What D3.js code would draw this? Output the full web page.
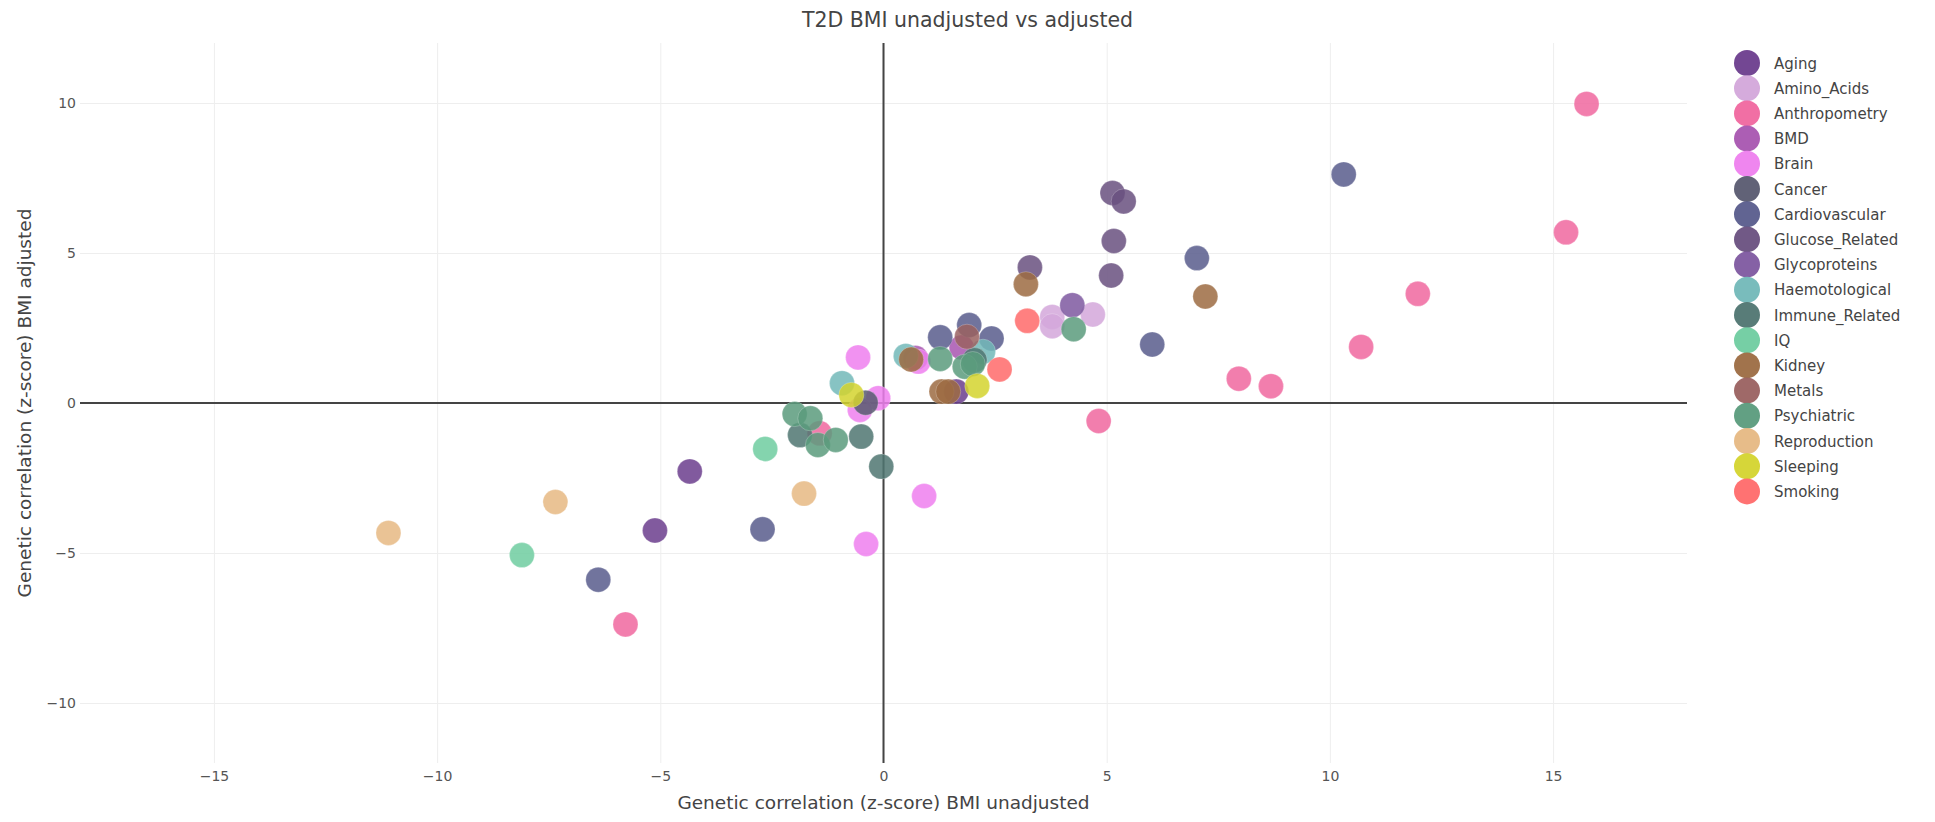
<!DOCTYPE html>
<html>
<head>
<meta charset="utf-8">
<script src="https://cdn.jsdelivr.net/npm/d3@7"></script>
<style>
body { margin: 0; background: #fff; }
text { font-family: Verdana, "DejaVu Sans", sans-serif; }
</style>
</head>
<body>
<div id="chart"></div>
<script>
// data: [unadjusted, adjusted] z-scores
var categories = ["Aging", "Amino_Acids", "Anthropometry", "BMD", "Brain", "Cancer", "Cardiovascular",
    "Glucose_Related", "Glycoproteins", "Haemotological", "Immune_Related", "IQ", "Kidney", "Metals",
    "Psychiatric", "Reproduction", "Sleeping", "Smoking"]
var colors = ["#6b3d8d", "#d3a7da", "#f0679f", "#a855b0", "#ee7fee", "#585a70", "#585c8c",
    "#69507f", "#7e58a0", "#72b8b8", "#4f7571", "#6fcca0", "#9c6b42", "#9a6160",
    "#5a9b7c", "#e6b883", "#d4d42e", "#ff6a6a"]

var aging = [[-4.34, -2.28], [-5.12, -4.25], [1.63, 0.38]]
var aminoAcids = [[3.78, 2.87], [3.78, 2.56], [4.69, 2.95]]
var anthropometry = [[15.75, 9.97], [15.29, 5.69], [11.97, 3.64], [10.7, 1.87], [7.96, 0.81],
    [8.68, 0.56], [4.82, -0.6], [-5.78, -7.38], [-1.43, -1.01]]
var bmd = [[0.72, 1.5], [1.75, 1.85]]
var brain = [[-0.57, 1.52], [-0.12, 0.16], [-0.53, -0.23], [0.91, -3.1], [-0.39, -4.7], [0.78, 1.38]]
var cancer = [[-0.4, 0.01]]
var cardiovascular = [[10.31, 7.62], [7.02, 4.83], [6.02, 1.95], [-6.39, -5.89], [-2.71, -4.21],
    [1.92, 2.6], [1.27, 2.19], [2.42, 2.15]]
var glucoseRelated = [[5.13, 7.0], [5.38, 6.72], [5.16, 5.4], [5.1, 4.25], [3.28, 4.52]]
var glycoproteins = [[4.23, 3.26]]
var haemotological = [[-0.93, 0.66], [0.5, 1.57], [2.23, 1.71]]
var immuneRelated = [[-0.05, -2.12], [-0.5, -1.12], [-1.87, -1.07], [2.04, 1.43]]
var iq = [[-8.1, -5.07], [-2.65, -1.53]]
var kidney = [[7.21, 3.55], [3.19, 3.96], [0.62, 1.45], [1.3, 0.38], [1.45, 0.38]]
var metals = [[1.87, 2.21]]
var psychiatric = [[4.26, 2.46], [1.27, 1.47], [1.82, 1.21], [2.0, 1.3], [-1.99, -0.37],
    [-1.64, -0.51], [-1.47, -1.4], [-1.07, -1.23]]
var reproduction = [[-11.09, -4.33], [-7.35, -3.3], [-1.78, -3.02]]
var sleeping = [[-0.72, 0.27], [2.1, 0.57]]
var smoking = [[3.22, 2.74], [2.6, 1.12]]

var series = [aging, aminoAcids, anthropometry, bmd, brain, cancer, cardiovascular, glucoseRelated,
    glycoproteins, haemotological, immuneRelated, iq, kidney, metals, psychiatric, reproduction,
    sleeping, smoking]

var xTicks = [-15, -10, -5, 0, 5, 10, 15]
var yTicks = [-10, -5, 0, 5, 10]

var W = 1935, H = 822
var margin = {top: 43, right: 248, bottom: 59, left: 80}
var width = W - margin.left - margin.right
var height = H - margin.top - margin.bottom
var r = 12.5

var svg = d3.select("#chart")
    .append("svg")
    .attr("width", W)
    .attr("height", H)

var x = d3.scaleLinear().domain([-18, 18]).range([0, width])
var y = d3.scaleLinear().domain([-12, 12]).range([height, 0])

var g = svg.append("g")
    .attr("transform", "translate(" + margin.left + "," + margin.top + ")")

// grid
g.append("g")
    .call(d3.axisBottom(x).tickValues(xTicks).tickSize(height).tickFormat(""))
    .call(function(a) {
        a.select(".domain").remove()
        a.selectAll("line").style("stroke", "#eeeeee")
    })
g.append("g")
    .call(d3.axisLeft(y).tickValues(yTicks).tickSize(-width).tickFormat(""))
    .call(function(a) {
        a.select(".domain").remove()
        a.selectAll("line").style("stroke", "#eeeeee")
    })

// zero lines
g.append("line")
    .attr("x1", 0).attr("x2", width)
    .attr("y1", y(0)).attr("y2", y(0))
    .style("stroke", "#444").style("stroke-width", 2)
g.append("line")
    .attr("x1", x(0)).attr("x2", x(0))
    .attr("y1", 0).attr("y2", height)
    .style("stroke", "#444").style("stroke-width", 2)

// tick labels
g.append("g")
    .attr("transform", "translate(0," + height + ")")
    .call(d3.axisBottom(x).tickValues(xTicks).tickSize(0).tickPadding(8))
    .call(function(a) {
        a.select(".domain").remove()
        a.selectAll("text").style("font-size", "14px").style("fill", "#555")
            .style("font-family", "Verdana, 'DejaVu Sans', sans-serif")
    })
g.append("g")
    .call(d3.axisLeft(y).tickValues(yTicks).tickSize(0).tickPadding(4))
    .call(function(a) {
        a.select(".domain").remove()
        a.selectAll("text").style("font-size", "14px").style("fill", "#555")
            .style("font-family", "Verdana, 'DejaVu Sans', sans-serif")
    })

// points
series.forEach(function(pts, i) {
    g.append("g").attr("class", "trace")
        .selectAll("circle")
        .data(pts)
        .enter().append("circle")
        .attr("cx", function(d) { return x(d[0]) })
        .attr("cy", function(d) { return y(d[1]) })
        .attr("r", r)
        .style("fill", colors[i])
        .style("fill-opacity", 0.85)
        .style("stroke", "#fff").style("stroke-opacity", 0.4).style("stroke-width", 0.6)
})

// titles
svg.append("text")
    .attr("x", W / 2).attr("y", 27)
    .attr("text-anchor", "middle")
    .style("font-size", "20.5px").style("fill", "#444")
    .text("T2D BMI unadjusted vs adjusted")
svg.append("text")
    .attr("x", margin.left + width / 2).attr("y", 809)
    .attr("text-anchor", "middle")
    .style("font-size", "18.5px").style("fill", "#444")
    .text("Genetic correlation (z-score) BMI unadjusted")
svg.append("text")
    .attr("transform", "translate(31," + (margin.top + height / 2) + ") rotate(-90)")
    .attr("text-anchor", "middle")
    .style("font-size", "18.5px").style("fill", "#444")
    .text("Genetic correlation (z-score) BMI adjusted")

// legend
var legend = svg.append("g")
    .attr("transform", "translate(1747,63)")
var item = legend.selectAll("g")
    .data(categories)
    .enter().append("g")
    .attr("transform", function(d, i) { return "translate(0," + (i * 25.2) + ")" })
item.append("circle")
    .attr("r", 13)
    .style("fill", function(d, i) { return colors[i] })
    .style("fill-opacity", 0.95)
item.append("text")
    .attr("x", 27).attr("y", 5.5)
    .style("font-size", "15px").style("fill", "#444")
    .text(function(d) { return d })
</script>
</body>
</html>
